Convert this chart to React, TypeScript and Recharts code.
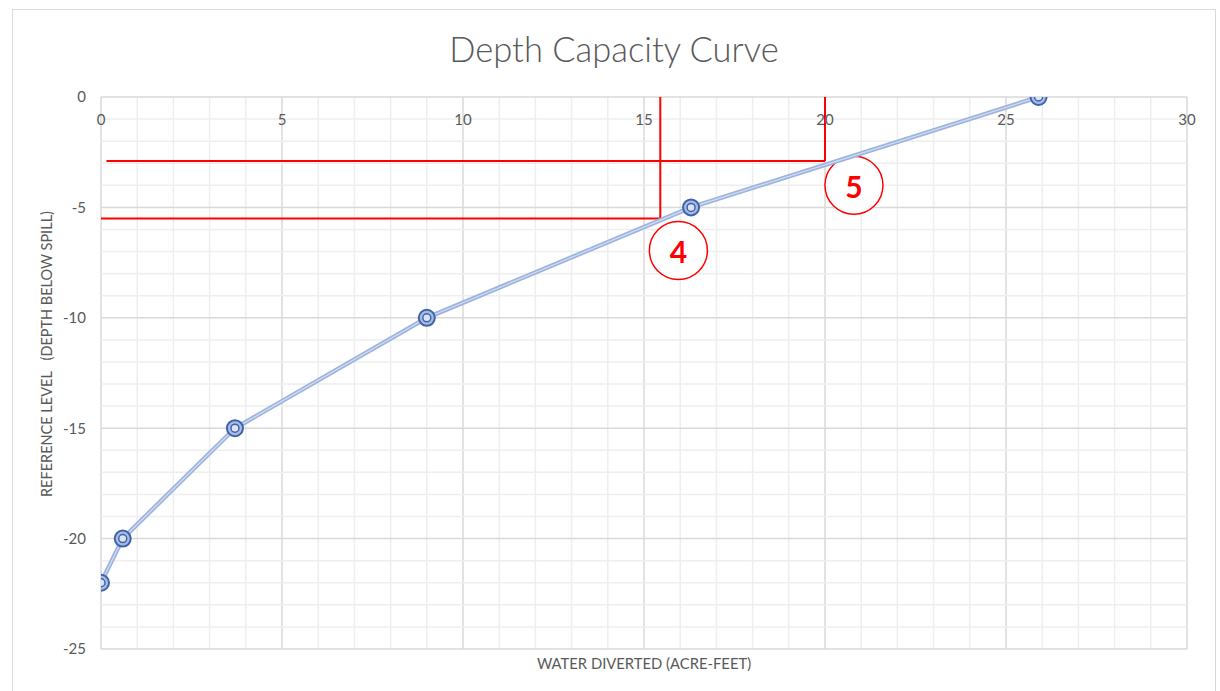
import {
  ReferenceDot,
  ReferenceLine,
  Scatter,
  ScatterChart,
  XAxis,
  YAxis,
} from 'recharts';

const waterDiverted = [0, 0.6, 3.7, 9.0, 16.3, 25.9];
const referenceLevel = [-22, -20, -15, -10, -5, 0];

const xTicks = [0, 5, 10, 15, 20, 25, 30];
const yTicks = [-25, -20, -15, -10, -5, 0];

// guide lines
const guideX = [15.45, 20];
const guideY = [-5.5, -2.9];
const guideStartX = [0, 0.15];

const calloutLabels = ['4', '5'];
const calloutX = [15.95, 20.8];
const calloutY = [-6.95, -4.0];

const font = 'Lato, sans-serif';
const gray = '#595959';

const data = waterDiverted.map((x, i) => ({ x, y: referenceLevel[i] }));

const minorX = Array.from({ length: 31 }, (_, i) => i);
const minorY = Array.from({ length: 26 }, (_, i) => -i);

const Marker = ({ cx, cy }: any) => (
  <g>
    <circle cx={cx} cy={cy} r={8} fill="#a9bde3" stroke="#3f63ab" strokeWidth={2} />
    <circle cx={cx} cy={cy} r={4} fill="#dbe4f3" stroke="#3f63ab" strokeWidth={1.5} />
  </g>
);

const XTick = ({ x, payload }: any) => (
  <text
    x={x}
    y={119}
    textAnchor="middle"
    dominantBaseline="central"
    fill={gray}
    fontSize={15}
    fontFamily={font}
  >
    {payload.value}
  </text>
);

const Callout = (label: string) => ({ cx, cy }: any) => (
  <g>
    <circle cx={cx} cy={cy} r={29} fill="#fff" stroke="#ff0000" strokeWidth={1.5} />
    <text
      x={cx}
      y={cy + 1}
      textAnchor="middle"
      dominantBaseline="central"
      fill="#ff0000"
      fontSize={30}
      fontWeight="bold"
      fontFamily={font}
    >
      {label}
    </text>
  </g>
);

export default function App() {
  return (
    <div
      style={{
        position: 'absolute',
        left: 0,
        top: 0,
        width: 1220,
        height: 691,
        background: '#fff',
        fontFamily: font,
      }}
    >
      <div
        style={{
          position: 'absolute',
          left: 12,
          top: 9,
          width: 1202,
          height: 684,
          border: '1.5px solid #d9d9d9',
        }}
      />
      <div
        style={{
          position: 'absolute',
          left: 0,
          width: 1228,
          top: 28,
          textAlign: 'center',
          fontSize: 34.5,
          fontWeight: 300,
          color: gray,
        }}
      >
        Depth Capacity Curve
      </div>
      <div
        style={{
          position: 'absolute',
          left: 101,
          width: 1086,
          top: 654,
          textAlign: 'center',
          fontSize: 14.8,
          color: gray,
        }}
      >
        WATER DIVERTED (ACRE-FEET)
      </div>
      <div
        style={{
          position: 'absolute',
          left: 46,
          top: 354,
          transform: 'translate(-50%, -50%) rotate(-90deg)',
          whiteSpace: 'pre',
          fontSize: 14.5,
          color: gray,
        }}
      >
        {'REFERENCE LEVEL   (DEPTH BELOW SPILL)'}
      </div>
      <div style={{ position: 'absolute', left: 0, top: 0 }}>
        <ScatterChart
          width={1220}
          height={691}
          margin={{ top: 67, right: 33, bottom: 42, left: 41 }}
        >
          <XAxis
            type="number"
            dataKey="x"
            orientation="top"
            domain={[0, 30]}
            ticks={xTicks}
            height={30}
            axisLine={false}
            tickLine={false}
            tick={<XTick />}
            allowDataOverflow
          />
          <YAxis
            type="number"
            dataKey="y"
            domain={[-25, 0]}
            ticks={yTicks}
            width={60}
            axisLine={false}
            tickLine={false}
            tickSize={0}
            tickMargin={15}
            tick={{ fill: gray, fontSize: 15, fontFamily: font }}
            allowDataOverflow
          />
          {minorX.map((v) => (
            <ReferenceLine
              key={'mx' + v}
              x={v}
              stroke={v % 5 === 0 ? '#d9d9d9' : '#eeeeee'}
              strokeWidth={1.5}
              ifOverflow="extendDomain"
            />
          ))}
          {minorY.map((v) => (
            <ReferenceLine
              key={'my' + v}
              y={v}
              stroke={v % 5 === 0 ? '#d9d9d9' : '#eeeeee'}
              strokeWidth={1.5}
              ifOverflow="extendDomain"
            />
          ))}
          {guideX.map((gx, i) => (
            <ReferenceLine
              key={'gv' + i}
              segment={[
                { x: gx, y: 0 },
                { x: gx, y: guideY[i] },
              ]}
              stroke="#ff0000"
              strokeWidth={2}
            />
          ))}
          {guideX.map((gx, i) => (
            <ReferenceLine
              key={'gh' + i}
              segment={[
                { x: guideStartX[i], y: guideY[i] },
                { x: gx, y: guideY[i] },
              ]}
              stroke="#ff0000"
              strokeWidth={2}
            />
          ))}
          {calloutLabels.map((label, i) => (
            <ReferenceDot
              key={'c' + i}
              x={calloutX[i]}
              y={calloutY[i]}
              r={29}
              shape={Callout(label)}
            />
          ))}
          <Scatter
            data={data}
            line={{ stroke: '#9cb3de', strokeWidth: 4.5 }}
            lineType="joint"
            shape={() => <g />}
            isAnimationActive={false}
          />
          <Scatter
            data={data}
            line={{ stroke: '#d3def1', strokeWidth: 1.2 }}
            lineType="joint"
            shape={<Marker />}
            isAnimationActive={false}
          />
        </ScatterChart>
      </div>
    </div>
  );
}
